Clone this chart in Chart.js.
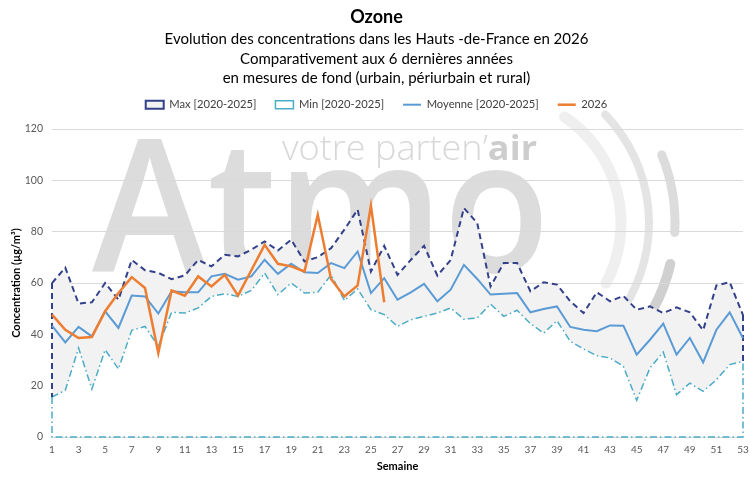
<!DOCTYPE html>
<html><head><meta charset="utf-8">
<script src="https://cdn.jsdelivr.net/npm/chart.js@4.4.1/dist/chart.umd.min.js"></script>
<style>html,body{margin:0;padding:0;background:#fff}#wrap{width:750px;height:478px}</style>
</head><body><div id="wrap"><canvas id="c" width="750" height="478"></canvas></div>
<script>
const weeks = [1,2,3,4,5,6,7,8,9,10,11,12,13,14,15,16,17,18,19,20,21,22,23,24,25,26,27,28,29,30,31,32,33,34,35,36,37,38,39,40,41,42,43,44,45,46,47,48,49,50,51,52,53];
const xTicks = [1,3,5,7,9,11,13,15,17,19,21,23,25,27,29,31,33,35,37,39,41,43,45,47,49,51,53];
const yTicks = [0,20,40,60,80,100,120];
const maxVals = [60,66,52,52.5,60,53.5,69,65,64,61.5,63,69,66.5,71,70.4,73,76.2,72.7,76.9,68.4,70.1,73.6,80.8,88.6,64.5,74.5,63.2,69,74.5,62.9,69,89.2,83.4,58.7,67.8,67.8,56.8,60.3,59.4,52.9,48.3,56.4,52.9,55,49.6,50.9,48.3,50.5,48.6,41.6,59.1,60.3,47.5];
const minVals = [15.6,18.2,34.7,18.7,34,26.5,41.6,43.1,35.3,48.6,48.3,50.3,54.8,55.8,54.8,57.1,63.9,55.5,60,56.1,56.4,63.2,53.2,57.7,49.6,47.7,43.1,45.7,47,48.3,50.3,45.9,46.4,51.8,47,49.4,44.2,40.5,45.3,37.3,34.3,31.7,30.8,27.5,14.3,26.9,33.1,16.5,21,17.8,22.3,28.2,29.5];
const meanVals = [43.4,36.9,42.9,39.2,49,42.5,55.1,54.8,48.1,56.8,56.4,56.4,62.6,63.6,61.3,62.6,69.1,63.6,67.5,64.2,63.9,67.8,65.8,72.3,56.1,61.9,53.5,56.4,59.7,52.9,57.4,67.1,61.6,55.5,55.8,56.1,48.6,49.9,50.9,42.9,41.8,41.2,43.5,43.4,32.1,37.9,44.2,32.1,38.6,29.1,41.8,48.6,38.5];
const vals2026 = [47.7,41.8,38.6,39,49,56.1,62.3,58.1,32.7,57.1,55.1,62.6,58.7,63.2,55.1,65,74.9,67.5,66.5,64.5,86.6,61.6,54.8,59.1,90.1,52.5];
const seriesLabels = ['Max [2020-2025]','Min [2020-2025]','Moyenne [2020-2025]','2026'];
const titleText = 'Ozone';
const subtitleLines = ['Evolution des concentrations dans les Hauts -de-France en 2026','Comparativement aux 6 dernières années','en mesures de fond (urbain, périurbain et rural)'];
const xTitle = 'Semaine';
const yTitle = 'Concentration (µg/m³)';

const pts = arr => arr.map((v,i)=>({x:weeks[i],y:v}));
const last = weeks.length-1;

const C_MAX='#33408a', C_MIN='#4bacc6', C_MEAN='#5b9bd5', C_2026='#ed7d31';
const DASH_MAX=[6,4], DASH_MIN=[7,3,1.5,3];

const watermark = {
  id:'watermark',
  beforeDraw(chart){
    const ctx=chart.ctx;
    ctx.save();
    ctx.fillStyle='#fff'; ctx.fillRect(0,0,chart.width,chart.height);
    const cx=493, cy=223;
    const arc=(r,a0,a1,w,col)=>{ctx.beginPath();ctx.arc(cx,cy,r,a0*Math.PI/180,a1*Math.PI/180);ctx.lineWidth=w;ctx.strokeStyle=col;ctx.lineCap='round';ctx.stroke();};
    arc(128,-56,28,11,'#efefef');
    arc(156,-44,33,8,'#e4e4e4');
    arc(182,-22,3,9,'#dcdcdc');
    arc(182,13,28,10,'#d0d0d0');
    ctx.font='600 185px "Open Sans"'; ctx.fillStyle='#dcdcdc'; ctx.textBaseline='alphabetic';
    const w=ctx.measureText('Atmo').width;
    ctx.save(); ctx.translate(92,272); ctx.scale(458/w,1); ctx.fillText('Atmo',0,0); ctx.restore();
    const t1='votre parten’', t2='air';
    ctx.font='300 34px "Open Sans"'; const w1=ctx.measureText(t1).width;
    ctx.font='bold 34px "Open Sans"'; const w2=ctx.measureText(t2).width;
    const s=255/(w1+w2);
    ctx.save(); ctx.translate(282,160); ctx.scale(s,1);
    ctx.fillStyle='#d8d8d8'; ctx.font='300 34px "Open Sans"'; ctx.fillText(t1,0,0);
    ctx.fillStyle='#cdcdcd'; ctx.font='bold 34px "Open Sans"'; ctx.fillText(t2,w1,0);
    ctx.restore();
    ctx.restore();
  }
};
const legendHeight = {
  id:'legendHeight',
  beforeLayout(chart){
    const lg=chart.legend;
    if(lg && !lg._patched){
      const orig=lg.fit;
      lg.fit=function(){orig.call(this); this.height=49;};
      lg._patched=true;
    }
  }
};

const common = {pointRadius:0, pointHoverRadius:0, tension:0, clip:false};
new Chart(document.getElementById('c'),{
  type:'line',
  data:{datasets:[
    Object.assign({label:seriesLabels[0],data:pts(maxVals),borderColor:C_MAX,borderWidth:2,borderDash:DASH_MAX,backgroundColor:'#f2f2f2',fill:'origin',pointStyle:'rect',order:4},common),
    Object.assign({label:seriesLabels[1],data:pts(minVals),borderColor:C_MIN,borderWidth:1.5,borderDash:DASH_MIN,backgroundColor:'#ffffff',fill:'origin',pointStyle:'rect',order:3},common),
    Object.assign({label:seriesLabels[2],data:pts(meanVals),borderColor:C_MEAN,borderWidth:2,backgroundColor:C_MEAN,fill:false,pointStyle:'line',order:1},common),
    Object.assign({label:seriesLabels[3],data:pts(vals2026),borderColor:C_2026,borderWidth:2.5,backgroundColor:C_2026,fill:false,pointStyle:'line',order:0},common),
    Object.assign({label:'edgeMin',data:[{x:weeks[0],y:minVals[0]},{x:weeks[0],y:0},{x:weeks[last],y:0},{x:weeks[last],y:minVals[last]}],borderColor:C_MIN,borderWidth:1.5,borderDash:DASH_MIN,fill:false,order:2},common),
    Object.assign({label:'edgeMaxL',data:[{x:weeks[0],y:maxVals[0]},{x:weeks[0],y:minVals[0]}],borderColor:C_MAX,borderWidth:2,borderDash:DASH_MAX,fill:false,order:2},common),
    Object.assign({label:'edgeMaxR',data:[{x:weeks[last],y:maxVals[last]},{x:weeks[last],y:minVals[last]}],borderColor:C_MAX,borderWidth:2,borderDash:DASH_MAX,fill:false,order:2},common)
  ]},
  options:{
    responsive:false, devicePixelRatio:1, animation:false,
    layout:{padding:{left:10,right:7,top:0,bottom:5}},
    plugins:{
      tooltip:{enabled:false},
      title:{display:true,text:titleText,font:{family:'Lato',size:18,weight:'bold'},color:'#000',padding:{top:6,bottom:0}},
      subtitle:{display:true,text:subtitleLines,font:{family:'Lato',size:15,lineHeight:1.3},color:'#000',padding:{top:2,bottom:-8}},
      legend:{display:true,labels:{font:{family:'Lato',size:11.2},color:'#404040',usePointStyle:true,pointStyleWidth:18,boxHeight:8,padding:19,
        filter:it=>it.datasetIndex<4, sort:(a,b)=>a.datasetIndex-b.datasetIndex}}
    },
    scales:{
      x:{type:'linear',min:1,max:53,afterBuildTicks:s=>{s.ticks=xTicks.map(v=>({value:v}));},
        afterFit:s=>{s.height=36; s.paddingRight=0; s.paddingLeft=0;},
        grid:{display:false,drawTicks:false},border:{display:false},
        ticks:{font:{family:'Lato',size:10},color:'#595959',padding:7,maxRotation:0,autoSkip:false},
        title:{display:true,text:xTitle,font:{family:'Lato',size:11,weight:'bold'},color:'#000',padding:{top:3,bottom:0}}},
      y:{min:0,max:120,afterBuildTicks:s=>{s.ticks=yTicks.map(v=>({value:v}));},
        afterFit:s=>{s.width=42; s.paddingTop=0; s.paddingBottom=0;},
        grid:{color:'#d9d9d9',lineWidth:1,drawTicks:false},border:{display:false},
        ticks:{font:{family:'Lato',size:10.5},color:'#595959',padding:9},
        title:{display:true,text:yTitle,font:{family:'Lato',size:11,weight:'bold'},color:'#000',padding:{top:0,bottom:3}}}
    }
  },
  plugins:[watermark,legendHeight]
});
</script></body></html>
